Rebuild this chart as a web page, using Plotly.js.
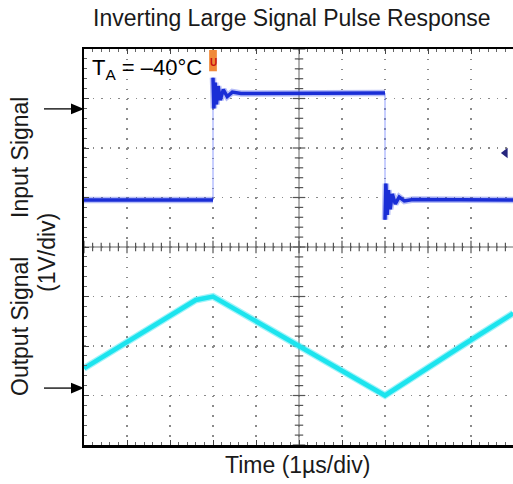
<!DOCTYPE html>
<html>
<head>
<meta charset="utf-8">
<script src="https://cdn.plot.ly/plotly-3.0.1.min.js"></script>
<style>html,body{margin:0;padding:0;background:#fff;}#chart{width:513px;height:484px;}</style>
</head>
<body>
<div id="chart"></div>
<script>
// ---- data (divisions: time 1 µs/div, voltage 1 V/div) ----
const inputTime  = [0, 3.0, 3.0, 3.02, 3.05, 3.08, 3.12, 3.17, 3.24, 3.33, 3.45, 3.65, 7.0, 7.0, 7.02, 7.05, 7.08, 7.12, 7.17, 7.24, 7.33, 7.45, 7.65, 9.98];
const inputLevel = [4.95, 4.95, 7.42, 6.8, 7.32, 6.88, 7.25, 6.97, 7.18, 7.04, 7.13, 7.1, 7.11, 4.55, 5.28, 4.65, 5.15, 4.76, 5.07, 4.87, 5.01, 4.93, 4.96, 4.95];
const outputTime  = [0, 0.84, 2.6, 3.0, 5.0, 7.0, 8.78, 9.98];
const outputLevel = [1.55, 2.0, 2.93, 3.0, 2.0, 1.0, 2.0, 2.66];
const groundLevels = [6.79, 1.15];   // channel reference arrows (left)
const triggerTime = 3.0;
const triggerLevelMark = {t: 9.8, v: 5.9};
const titleText = "Inverting Large Signal Pulse Response";
const xTitle = "Time (1µs/div)";
const tempLabel = "T<sub>A</sub> = –40°C";
const yLabels = ["Input Signal", "(1V/div)", "Output Signal"];

// ---- geometry helpers ----
const W = 513, H = 484, L = 84, T = 49, B = 445, R = 513;
const px = x => (x - L) / (R - L);
const py = y => (B - y) / (B - T);
const FONT = "Liberation Sans, Arial, sans-serif";

function splitEdges(t, v) {
  const xs = [], ys = [];
  for (let i = 0; i < t.length; i++) {
    if (i > 0 && t[i] === t[i-1] && Math.abs(v[i] - v[i-1]) > 1) { xs.push(null); ys.push(null); }
    xs.push(t[i]); ys.push(v[i]);
  }
  return {xs, ys};
}
const thick = splitEdges(inputTime, inputLevel);

// center-axis tick marks
const hx = [], hy = [], vx = [], vy = [], hxM = [], hyM = [], vxM = [], vyM = [];
for (let k = 0; k <= 50; k++) { const x = k * 0.2; if (k % 5 === 0) { hxM.push(x); hyM.push(4); } else { hx.push(x); hy.push(4); } }
for (let k = 0; k <= 40; k++) { const y = k * 0.2; if (k % 5 === 0) { vxM.push(5); vyM.push(y); } else { vx.push(5); vy.push(y); } }

const traces = [
  {x: hx, y: hy, mode: 'markers', marker: {symbol: 'line-ns', size: 6, line: {width: 1.2, color: '#555'}}, hoverinfo: 'skip'},
  {x: vx, y: vy, mode: 'markers', marker: {symbol: 'line-ew', size: 6, line: {width: 1.2, color: '#555'}}, hoverinfo: 'skip'},
  {x: hxM, y: hyM, mode: 'markers', marker: {symbol: 'line-ns', size: 9, line: {width: 1.2, color: '#555'}}, hoverinfo: 'skip'},
  {x: vxM, y: vyM, mode: 'markers', marker: {symbol: 'line-ew', size: 9, line: {width: 1.2, color: '#555'}}, hoverinfo: 'skip'},
  // input thin edge trace
  {x: inputTime, y: inputLevel, mode: 'lines', line: {width: 1, color: 'rgba(110,130,255,0.75)'}, hoverinfo: 'skip'},
  // input thick
  {x: thick.xs, y: thick.ys, mode: 'lines', connectgaps: false, line: {width: 6.5, color: 'rgba(50,70,235,0.35)'}, hoverinfo: 'skip'},
  {x: thick.xs, y: thick.ys, mode: 'lines', connectgaps: false, line: {width: 3.5, color: '#1a2ed6'}, hoverinfo: 'skip'},
  // output
  {x: outputTime, y: outputLevel, mode: 'lines', line: {width: 7, color: 'rgba(20,225,240,0.4)'}, hoverinfo: 'skip'},
  {x: outputTime, y: outputLevel, mode: 'lines', line: {width: 4.5, color: '#1ce4ee'}, hoverinfo: 'skip'},
  // trigger level mark
  {x: [triggerLevelMark.t], y: [triggerLevelMark.v], mode: 'markers', marker: {symbol: 'triangle-left', size: 9, color: '#26267e'}, hoverinfo: 'skip'}
];

const annotations = [
  {xref: 'paper', yref: 'paper', x: px(292), y: py(18), text: titleText, showarrow: false, xanchor: 'center', yanchor: 'middle', font: {family: FONT, size: 23, color: '#1a1a1a'}},
  {xref: 'paper', yref: 'paper', x: px(297), y: py(465), text: xTitle, showarrow: false, xanchor: 'center', yanchor: 'middle', font: {family: FONT, size: 23, color: '#1a1a1a'}},
  {xref: 'paper', yref: 'paper', x: px(90), y: py(69), text: tempLabel, showarrow: false, xanchor: 'left', yanchor: 'middle', font: {family: FONT, size: 22, color: '#000'}},
  {xref: 'paper', yref: 'paper', x: px(20), y: py(158), text: yLabels[0], textangle: -90, showarrow: false, xanchor: 'center', yanchor: 'middle', font: {family: FONT, size: 23, color: '#1a1a1a'}},
  {xref: 'paper', yref: 'paper', x: px(47), y: py(253), text: yLabels[1], textangle: -90, showarrow: false, xanchor: 'center', yanchor: 'middle', font: {family: FONT, size: 23, color: '#1a1a1a'}},
  {xref: 'paper', yref: 'paper', x: px(20), y: py(327), text: yLabels[2], textangle: -90, showarrow: false, xanchor: 'center', yanchor: 'middle', font: {family: FONT, size: 23, color: '#1a1a1a'}},
  {xref: 'x', yref: 'y', x: triggerTime, y: 7.72, text: '<b>U</b>', showarrow: false, font: {family: FONT, size: 10, color: '#c81010'}}
];

const shapes = [
  {type: 'line', xref: 'x', yref: 'paper', x0: 5, x1: 5, y0: 0, y1: 1, line: {color: '#666', width: 1}, layer: 'below'},
  {type: 'line', xref: 'paper', yref: 'y', x0: 0, x1: 1, y0: 4, y1: 4, line: {color: '#666', width: 1}, layer: 'below'},
  {type: 'rect', xref: 'x', yref: 'y', x0: triggerTime - 0.09, x1: triggerTime + 0.09, y0: 7.55, y1: 7.98, fillcolor: '#f08a3a', line: {width: 0}, layer: 'above'}
];
// reference arrows on the left
groundLevels.forEach(g => {
  shapes.push({type: 'line', xref: 'paper', yref: 'y', x0: px(44), x1: px(76), y0: g, y1: g, line: {color: '#000', width: 1.3}});
  shapes.push({type: 'path', xref: 'paper', yref: 'y', path: `M ${px(84)} ${g} L ${px(71)} ${g + 0.11} L ${px(71)} ${g - 0.11} Z`, fillcolor: '#000', line: {width: 0}});
});

const layout = {
  width: W, height: H,
  margin: {l: L, r: W - R, t: T, b: H - B, pad: 0},
  paper_bgcolor: '#fff', plot_bgcolor: '#fff',
  showlegend: false,
  xaxis: {range: [0, (R - L) / 43], dtick: 1, tick0: 0, showticklabels: false, zeroline: false,
          showgrid: true, gridcolor: '#8a8a8a', gridwidth: 1.5, griddash: '1.5px,8.4px',
          showline: true, linecolor: '#000', linewidth: 2.5, mirror: 'ticks',
          ticks: 'inside', ticklen: 5, tickcolor: '#444', tickwidth: 1,
          minor: {dtick: 0.2, ticks: 'inside', ticklen: 3, tickcolor: '#666', showgrid: false},
          fixedrange: true},
  yaxis: {range: [0, 8], dtick: 1, tick0: 0, showticklabels: false, zeroline: false,
          showgrid: true, gridcolor: '#8a8a8a', gridwidth: 1.5, griddash: '1.5px,7.1px',
          showline: true, linecolor: '#000', linewidth: 2.5, mirror: false,
          ticks: 'inside', ticklen: 5, tickcolor: '#444', tickwidth: 1,
          minor: {dtick: 0.2, ticks: 'inside', ticklen: 3, tickcolor: '#666', showgrid: false},
          fixedrange: true},
  shapes: shapes,
  annotations: annotations
};

Plotly.newPlot('chart', traces, layout, {staticPlot: true, displayModeBar: false});
</script>
</body>
</html>
